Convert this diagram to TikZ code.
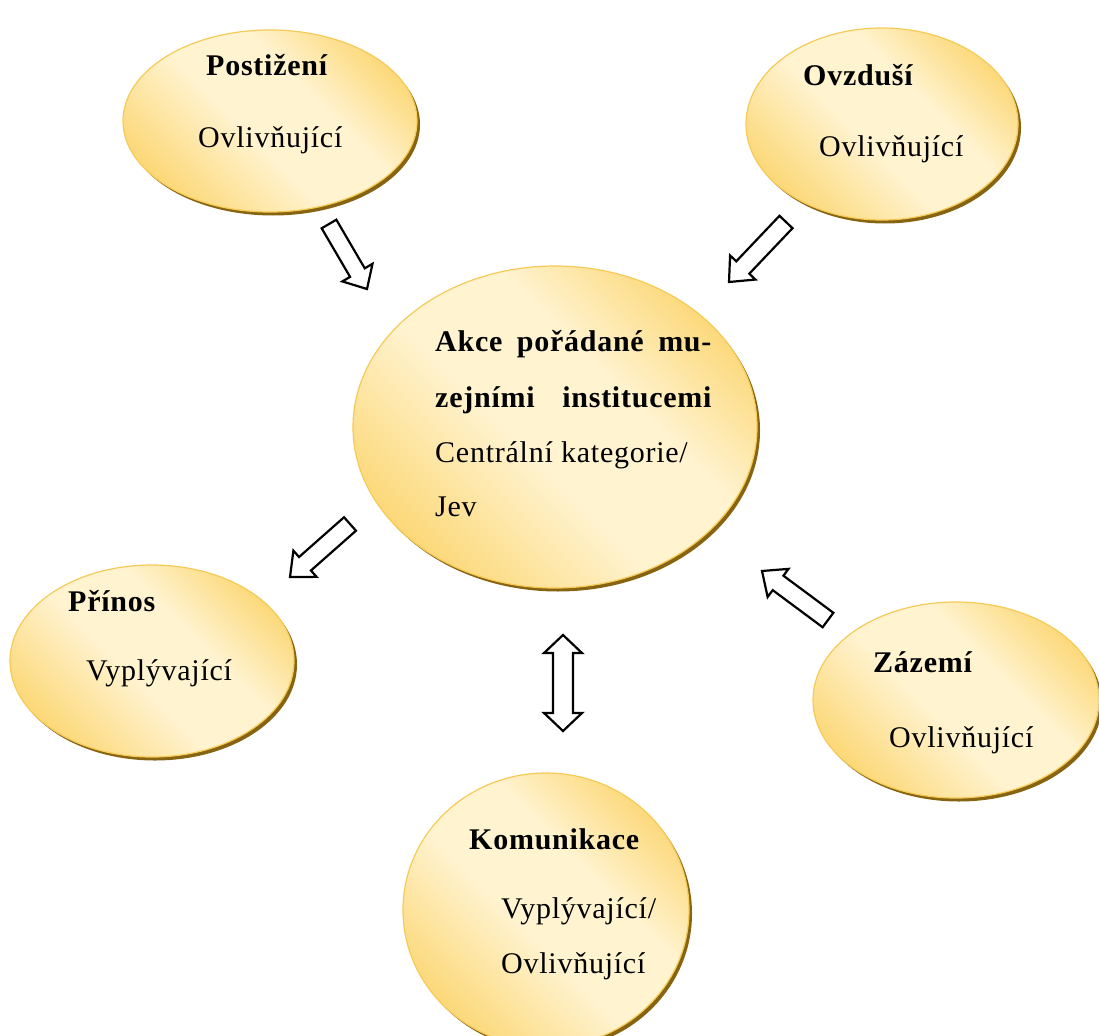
\documentclass[tikz,border=0pt]{standalone}
\usepackage{fontspec}
\setmainfont{Liberation Serif}[LetterSpace=2.5]
\usetikzlibrary{shapes.geometric,shadows,calc}

\definecolor{goldedge}{RGB}{251,212,108}
\definecolor{goldlight}{RGB}{255,243,208}
\definecolor{goldrim}{RGB}{246,202,86}
\definecolor{goldshadow}{RGB}{135,100,18}

\pgfdeclarehorizontalshading{goldband}{100bp}{color(0bp)=(goldedge); color(22bp)=(goldedge); color(45bp)=(goldlight); color(60bp)=(goldlight); color(78bp)=(goldedge); color(100bp)=(goldedge)}

\tikzset{
  blob/.style={ellipse, inner sep=0pt, draw=goldrim, line width=1.2pt,
    shading=goldband, shading angle=45,
    drop shadow={shadow xshift=3pt, shadow yshift=-3.5pt, fill=goldshadow, opacity=1}},
  lbl/.style={inner sep=0pt, anchor=base west, font=\fontsize{30}{36}\selectfont},
  blockarr/.style={draw=black, fill=white, line width=2.2pt, line join=miter},
}

% #1 tail, #2 tip, #3 half shaft width, #4 half head width, #5 head length
\newcommand\blkarrow[5]{%
  \coordinate (#2-h) at ($(#2)!#5!(#1)$);
  \draw[blockarr] ($(#1)!#3!90:(#2)$) -- ($(#2-h)!#3!90:(#2)$) -- ($(#2-h)!#4!90:(#2)$)
    -- (#2) -- ($(#2-h)!#4!-90:(#2)$) -- ($(#2-h)!#3!-90:(#2)$) -- ($(#1)!#3!-90:(#2)$) -- cycle;
}
% #1 end A, #2 end B, #3 half shaft, #4 half head, #5 head length
\newcommand\dblarrow[5]{%
  \coordinate (#1-h) at ($(#1)!#5!(#2)$);
  \coordinate (#2-h) at ($(#2)!#5!(#1)$);
  \draw[blockarr] (#1) -- ($(#1-h)!#4!90:(#2)$) -- ($(#1-h)!#3!90:(#2)$)
    -- ($(#2-h)!#3!90:(#2)$) -- ($(#2-h)!#4!90:(#2)$) -- (#2)
    -- ($(#2-h)!#4!-90:(#2)$) -- ($(#2-h)!#3!-90:(#2)$)
    -- ($(#1-h)!#3!-90:(#2)$) -- ($(#1-h)!#4!-90:(#2)$) -- cycle;
}

\begin{document}
\begin{tikzpicture}[x=1pt, y=-1pt]
\useasboundingbox (0,0) rectangle (1099,1035);
\clip (0,0) rectangle (1099,1035);

% ellipses
\node[blob, minimum width=294pt, minimum height=182pt] (post) at (270,121) {};
\node[blob, minimum width=272pt, minimum height=192pt] (ovz) at (882,124) {};
\node[blob, minimum width=404pt, minimum height=322pt] (akce) at (555,427) {};
\node[blob, minimum width=284pt, minimum height=192pt] (prin) at (152,661) {};
\node[blob, minimum width=286pt, minimum height=196pt] (zaz) at (956,700) {};
\node[blob, minimum width=286pt, minimum height=274pt] (kom) at (546,910) {};

% texts
\node[lbl] (postA) at (206,76) {\textbf{Postižení}};
\node[lbl] (postB) at (198,148) {Ovlivňující};

\node[lbl] (ovzA) at (803,86) {\textbf{Ovzduší}};
\node[lbl] (ovzB) at (819,157) {Ovlivňující};

\node[lbl] (akceA) at (435,351) {\makebox[277pt][s]{\textbf{Akce pořádané mu-}}};
\node[lbl] (akceB) at (435,407) {\makebox[277pt][s]{\textbf{zejními institucemi}}};
\node[lbl] (akceC) at (435,462) {Centrální kategorie/};
\node[lbl] (akceD) at (435,516) {Jev};

\node[lbl] (prinA) at (68,611) {\textbf{Přínos}};
\node[lbl] (prinB) at (86,680) {Vyplývající};

\node[lbl] (zazA) at (873,672) {\textbf{Zázemí}};
\node[lbl] (zazB) at (889,747) {Ovlivňující};

\node[lbl] (komA) at (469,849) {\textbf{Komunikace}};
\node[lbl] (komB) at (501,918) {Vyplývající/};
\node[lbl] (komC) at (501,973) {Ovlivňující};

% block arrows
\coordinate (t1) at (329,224); \coordinate (p1) at (367,289);
\blkarrow{t1}{p1}{8.5pt}{17.5pt}{19pt}
\coordinate (t2) at (786,222); \coordinate (p2) at (729,282);
\blkarrow{t2}{p2}{9pt}{17.5pt}{20pt}
\coordinate (t3) at (350,524); \coordinate (p3) at (290,577);
\blkarrow{t3}{p3}{9pt}{17.5pt}{20pt}
\coordinate (t4) at (828,620); \coordinate (p4) at (762,571);
\blkarrow{t4}{p4}{9pt}{17.5pt}{20pt}
\coordinate (d1) at (563,635); \coordinate (d2) at (563,731);
\dblarrow{d1}{d2}{10pt}{19pt}{18pt}
\end{tikzpicture}
\end{document}
